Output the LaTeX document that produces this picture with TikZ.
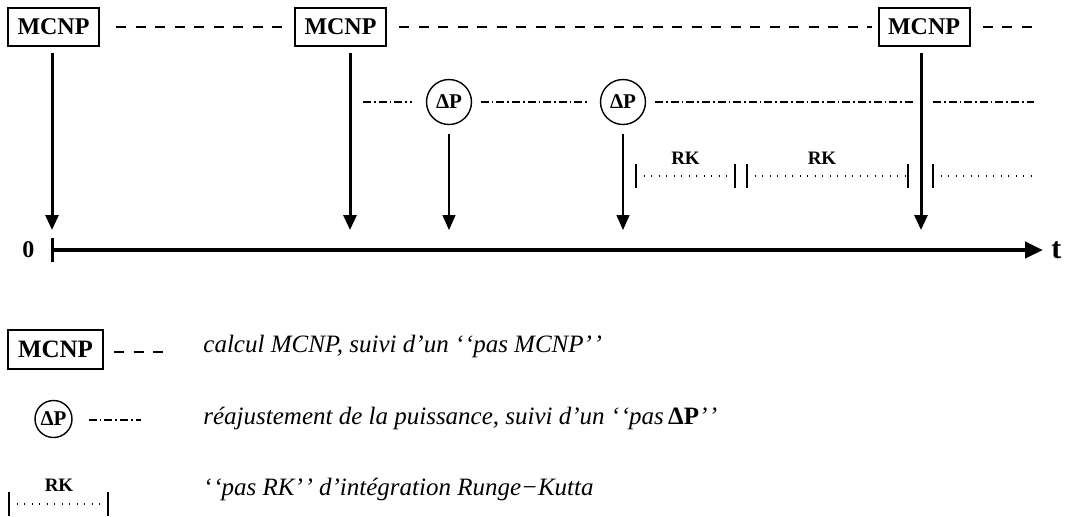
\documentclass[tikz,border=0pt]{standalone}
\usepackage{fontspec}
\setmainfont{Liberation Serif}
\usetikzlibrary{arrows.meta,positioning,calc}

\begin{document}
\begin{tikzpicture}[x=0.5pt,y=-0.5pt,>={Triangle[length=7.5pt,width=6.5pt]},
        mcnp/.style={draw,line width=1pt,inner sep=0pt,minimum width=45.5pt,minimum height=19pt,font=\fontsize{12}{13}\selectfont\bfseries},
        dp/.style={draw,circle,line width=0.7pt,inner sep=0pt,minimum size=22.5pt,font=\fontsize{10.5}{12}\selectfont\bfseries},
        rk/.style={inner sep=0pt,font=\fontsize{9.5}{11}\selectfont\bfseries},
        mcnpline/.style={line width=1pt,dash pattern=on 5pt off 4.75pt},
        dpline/.style={line width=1pt,dash pattern=on 4pt off 1.5pt on 0.8pt off 1.5pt},
        rkline/.style={line width=0.6pt,dash pattern=on 0.6pt off 3.15pt},
        rkbar/.style={line width=0.6pt},
        bigarrow/.style={->,line width=1.5pt},
        smallarrow/.style={->,line width=0.7pt},
        legend/.style={anchor=west,inner sep=0pt,font=\fontsize{12.5}{14}\selectfont\itshape}]
        \useasboundingbox (0,0) rectangle (1067,516);
        \node[mcnp] (m1) at (53.5,27) {MCNP};
        \node[mcnp] (m2) at (340.5,27) {MCNP};
        \node[mcnp] (m3) at (924,27) {MCNP};
        \node[dp] (p1) at (449,102) {ΔP};
        \node[dp] (p2) at (623,102) {ΔP};
        \coordinate (o) at (52,250);
        \coordinate (tend) at (1043,250);
        \coordinate (a1) at (52,230);
        \coordinate (a2) at (350,230);
        \coordinate (a3) at (449,230);
        \coordinate (a4) at (623,230);
        \coordinate (a5) at (921,230);
        \draw[line width=2.2pt,-{Triangle[length=9pt,width=8pt]}] (o) -- (tend);
        \draw[line width=1.5pt] ($(o)+(0,-12)$) -- ($(o)+(0,12)$);
        \node[font=\fontsize{12}{13}\selectfont\bfseries] (zero) at (28.5,250) {0};
        \node[inner sep=0pt,font=\fontsize{15}{16}\selectfont\bfseries] (t) [right=4pt of tend] {t};
        \draw[bigarrow] ($(m1.south -| a1)+(0,6)$) -- (a1);
        \draw[bigarrow] ($(m2.south -| a2)+(0,6)$) -- (a2);
        \draw[bigarrow] ($(m3.south -| a5)+(0,6)$) -- (a5);
        \draw[smallarrow] ($(p1.south)+(0,8.5)$) -- (a3);
        \draw[smallarrow] ($(p2.south)+(0,8.5)$) -- (a4);
        \coordinate (mend) at (1032,27);
        \draw[mcnpline] ($(m1.east)+(16,0)$) -- ($(m2.west)+(-8,0)$);
        \draw[mcnpline] ($(m2.east)+(12,0)$) -- ($(m3.west)+(-6,0)$);
        \draw[mcnpline] ($(m3.east)+(12,0)$) -- (mend);
        \coordinate (dpstart) at (363,102);
        \coordinate (dpa) at (915,102);
        \coordinate (dpb) at (933,102);
        \coordinate (dpend) at (1034,102);
        \draw[dpline] (dpstart) -- ($(p1.west)+(-14,0)$);
        \draw[dpline] ($(p1.east)+(8.5,0)$) -- ($(p2.west)+(-11,0)$);
        \draw[dpline] ($(p2.east)+(9,0)$) -- (dpa);
        \draw[dpline] (dpb) -- (dpend);
        \foreach \x in {636,735,747,908,933}
            \draw[rkbar] (\x,164) -- (\x,188);
        \draw[rkline] (636,176) -- (735,176);
        \draw[rkline] (747,176) -- (908,176);
        \draw[rkline] (933,176) -- (1032,176);
        \node[rk] (rk1) at (685.5,158) {RK};
        \node[rk] (rk2) at (822,158) {RK};
        \node[mcnp,minimum width=47.5pt,minimum height=19.5pt,font=\fontsize{12.5}{13}\selectfont\bfseries] (lm) at (55.5,349.5) {MCNP};
        \draw[mcnpline] ($(lm.east)+(10,2.5)$) -- ++(50,0);
        \node[dp,minimum size=18.5pt] (lp) at (53.5,419) {ΔP};
        \draw[dpline] ($(lp.east)+(16,1)$) -- ++(52,0);
        \foreach \x in {9,108}
            \draw[rkbar] (\x,492) -- (\x,516);
        \draw[rkline] (9,504) -- (108,504);
        \node[rk] (lrk) at (59,485) {RK};
        \node[legend] (l1) at (203,346) {calcul MCNP, suivi d’un ‘\kern0.8pt‘pas MCNP’\kern0.8pt’};
        \node[legend] (l2) at (203,418) {réajustement de la puissance, suivi d’un ‘\kern0.8pt‘pas\,{\upshape\bfseries ΔP}’\kern0.8pt’};
        \node[legend] (l3) at (203,489) {‘\kern0.8pt‘pas RK’\kern0.8pt’ d’intégration Runge−Kutta};
    \end{tikzpicture}
\end{document}
